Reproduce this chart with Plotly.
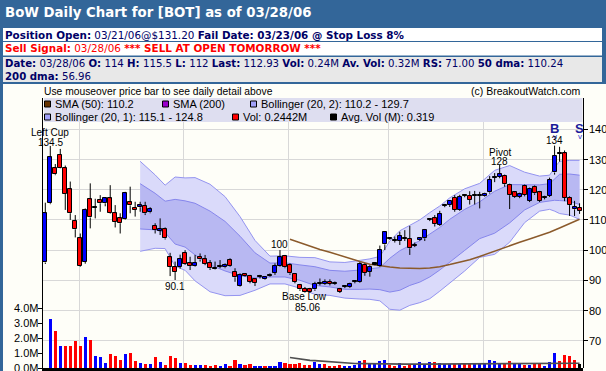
import plotly.graph_objects as go

# ---------------- data ----------------
opens = [95.9, 115.5, 127.1, 131.5, 127.1, 120.1, 109.6, 103.9, 96.2, 116.8,
         114.0, 116.6, 115.5, 117.1, 112.2, 110.5, 110.2, 115.8, 114.0, 114.2,
         114.6, 112.5, 108.0, 106.4, 106.9, 97.6, 94.5, 94.5, 99.0, 95.6,
         94.7, 97.8, 96.9, 95.8, 94.0, 94.4, 94.3, 96.7, 92.9, 88.1,
         92.0, 91.4, 90.3, 91.1, 90.3, 91.7, 92.5, 94.7, 98.0, 95.0,
         92.1, 88.4, 87.2, 87.0, 87.0, 89.0, 88.9, 89.5, 88.9, 87.0,
         87.8, 87.9, 89.4, 89.5, 95.1, 92.9, 95.3, 94.8, 101.9, 103.7,
         103.2, 103.0, 103.7, 103.8, 101.6, 103.3, 103.9, 110.1, 110.5, 108.3,
         114.6, 114.9, 117.4, 113.3, 117.9, 118.0, 117.9, 118.1, 118.0, 119.1,
         124.1, 124.3, 124.6, 121.5, 119.1, 117.7, 121.3, 116.3, 121.0, 119.1,
         117.3, 118.0, 125.7, 131.9, 132.0, 117.4, 113.5, 114.0]
highs = [115.7, 134.5, 128.5, 133.5, 128.0, 122.7, 111.6, 105.5, 113.8, 122.1,
         117.0, 118.2, 117.5, 121.5, 114.9, 112.2, 119.3, 121.0, 116.0, 116.0,
         116.0, 114.2, 108.9, 110.5, 107.5, 99.1, 96.2, 98.5, 100.0, 97.8,
         98.4, 98.9, 98.4, 96.7, 96.2, 96.7, 95.6, 97.3, 94.0, 92.3,
         92.3, 91.8, 90.6, 91.8, 91.4, 92.3, 95.6, 100.0, 98.4, 95.6,
         92.3, 88.8, 87.8, 87.5, 89.5, 90.6, 90.3, 90.3, 89.6, 87.5,
         88.3, 89.2, 90.0, 96.0, 95.6, 95.0, 95.8, 101.5, 106.3, 104.2,
         104.5, 106.1, 106.6, 108.0, 102.5, 104.2, 107.0, 110.5, 111.6, 113.0,
         115.3, 116.6, 118.2, 118.3, 118.4, 119.5, 119.6, 119.3, 119.0, 124.5,
         125.5, 128.2, 125.0, 122.0, 119.5, 119.0, 121.7, 120.7, 121.4, 119.6,
         118.0, 124.0, 134.6, 134.2, 133.0, 117.8, 116.3, 115.5]
lows = [95.4, 115.2, 124.8, 127.0, 113.3, 110.0, 104.2, 94.5, 95.5, 107.2,
        110.5, 112.7, 114.5, 112.0, 107.5, 105.5, 110.0, 112.2, 111.1, 112.7,
        111.6, 112.2, 105.5, 105.0, 103.5, 91.4, 90.1, 93.9, 95.1, 93.4,
        94.5, 96.2, 95.0, 93.4, 93.6, 94.0, 94.0, 94.5, 89.5, 87.9,
        91.2, 89.0, 88.1, 90.6, 90.1, 91.2, 91.8, 94.5, 94.0, 91.8,
        89.0, 86.5, 85.8, 85.8, 86.5, 88.3, 88.5, 88.3, 88.5, 85.8,
        87.4, 87.5, 89.0, 89.2, 91.5, 91.2, 95.0, 94.5, 100.0, 103.4,
        102.5, 101.7, 103.0, 98.4, 101.0, 103.0, 103.0, 109.6, 107.8, 108.0,
        114.2, 114.3, 112.7, 113.0, 117.5, 115.1, 115.1, 113.8, 117.7, 118.7,
        122.5, 123.8, 121.0, 113.6, 117.3, 117.2, 117.8, 115.9, 118.3, 115.9,
        116.8, 117.6, 125.0, 129.3, 116.2, 111.3, 111.3, 112.0]
closes = [112.2, 130.7, 125.1, 127.1, 118.6, 112.2, 106.9, 94.8, 113.3, 110.8,
          114.0, 115.5, 117.1, 112.2, 109.4, 108.9, 118.8, 114.8, 113.3, 114.8,
          112.2, 113.6, 106.6, 107.0, 103.9, 94.5, 92.9, 97.0, 95.4, 94.7,
          95.8, 96.9, 95.4, 94.0, 93.9, 94.5, 95.0, 94.9, 91.0, 91.8,
          91.4, 89.5, 89.2, 91.2, 91.2, 91.8, 94.7, 97.6, 94.3, 92.3,
          89.5, 87.0, 86.0, 86.2, 88.8, 89.2, 89.5, 88.8, 89.0, 86.2,
          87.9, 88.8, 89.5, 95.4, 92.5, 94.5, 95.5, 100.0, 105.9, 103.8,
          103.1, 104.8, 103.8, 100.6, 101.7, 103.9, 106.6, 110.0, 108.6, 112.0,
          114.7, 116.3, 113.3, 117.7, 118.0, 116.6, 118.0, 118.2, 118.6, 123.2,
          124.0, 125.1, 121.8, 118.2, 117.7, 118.6, 118.2, 120.2, 118.8, 116.3,
          117.4, 123.2, 131.3, 132.0, 117.4, 114.9, 114.4, 112.93]

# volume in millions, one bar per session from the 2nd session on
volumes_m = [3.3, 2.47, 1.47, 1.47, 1.47, 1.8, 1.47, 2.07, 1.87, 0.8,
             0.73, 0.33, 0.93, 0.8, 0.53, 0.93, 1.0, 0.47, 0.33, 0.27,
             0.27, 0.73, 0.4, 0.2, 0.8, 0.67, 0.33, 0.33, 0.2, 0.2,
             0.2, 0.2, 0.13, 0.2, 0.13, 0.27, 0.07, 0.53, 0.27, 0.2,
             0.27, 0.13, 0.07, 0.07, 0.13, 0.13, 0.4, 0.33, 0.27, 0.27,
             0.33, 0.2, 0.2, 0.4, 0.27, 0.27, 0.13, 0.07, 0.2, 0.13,
             0.13, 0.2, 0.47, 0.53, 0.27, 0.27, 0.47, 0.53, 0.2, 0.13,
             0.33, 0.13, 0.27, 0.2, 0.4, 0.27, 0.4, 0.4, 0.33, 0.27,
             0.27, 0.27, 0.27, 0.27, 0.27, 0.27, 0.27, 0.27, 0.53, 0.47,
             0.27, 0.27, 0.47, 0.27, 0.27, 0.2, 0.2, 0.27, 0.27, 0.07,
             0.4, 1.0, 0.47, 0.87, 0.8, 0.53, 0.2442]
vol_dir = ("BRBRRRRBRBBBRRRBRRBRBRBRRRBRRBBRRRBBRRBRRBBRBBBRRRRRRBBRRRRBBBB"
           "RBBBBRRBRRBBBBRBBBRBRRBBBBBBRRBBRBRRBBBRRRR")
vol_first_bar = 1

sma50_idx = [49, 51, 53, 55, 57, 59, 61, 63, 65, 67, 69, 71, 73, 75, 77,
             79, 81, 83, 85, 87, 89, 91, 93, 95, 97, 99, 101, 103, 105, 107]
sma50_val = [103.6, 102.5, 101.2, 100.2, 99.3, 98.2, 97.1, 96.2, 95.3, 94.8,
             94.4, 94.1, 93.9, 93.9, 94.1, 94.5, 95.2, 95.9, 96.8, 97.9,
             99.1, 100.4, 101.6, 102.6, 103.7, 104.8, 105.9, 107.3, 108.8, 110.2]

avgvol_idx = [49, 50, 51, 52, 53, 54, 55, 56, 57, 58, 59, 60, 62, 64, 66, 68,
              72, 76, 80, 84, 88, 92, 96, 100, 102, 104, 107]
avgvol_val = [0.70, 0.645, 0.59, 0.54, 0.51, 0.49, 0.465, 0.435, 0.405, 0.37,
              0.335, 0.32, 0.305, 0.29, 0.272, 0.262, 0.26, 0.26, 0.265, 0.27,
              0.28, 0.285, 0.29, 0.29, 0.30, 0.31, 0.319]

boll_idx = [19, 22, 24, 26, 28, 30, 33, 36, 39, 42, 45, 48, 51, 54, 57, 60, 63,
            65, 67, 69, 71, 73, 75, 77, 79, 81, 84, 87, 90, 93, 96, 99, 101,
            102, 103, 105, 107]
boll_u2 = [129.4, 124.9, 121.5, 124.2, 123.9, 124.0, 121.8, 117.7, 111.1, 103.2,
           98.0, 98.1, 97.6, 97.5, 96.1, 95.9, 96.6, 97.1, 97.9, 103.0,
           106.4, 108.1, 110.0, 112.4, 114.6, 117.3, 120.3, 122.1, 126.4, 128.0,
           125.8, 124.5, 124.8, 127.3, 129.4, 129.7, 129.7]
boll_u1 = [122.0, 118.8, 116.2, 116.8, 116.3, 115.5, 112.9, 109.5, 104.6, 99.1,
           95.7, 95.8, 95.1, 94.5, 93.3, 93.0, 93.4, 93.7, 94.2, 97.3,
           99.8, 101.5, 103.1, 105.3, 107.5, 110.2, 113.5, 116.0, 119.5, 121.7,
           121.6, 121.6, 122.0, 123.7, 125.1, 125.2, 124.8]
boll_l1 = [107.0, 106.7, 105.8, 102.0, 101.0, 98.4, 95.1, 93.1, 91.5, 90.8,
           91.1, 91.1, 90.0, 88.3, 87.8, 87.0, 87.0, 87.1, 86.9, 86.1,
           86.7, 88.3, 89.4, 91.1, 93.4, 96.1, 99.9, 103.8, 105.6, 109.0,
           113.3, 115.8, 116.3, 116.5, 116.4, 116.2, 115.1]
boll_l2 = [99.6, 100.6, 100.5, 94.7, 93.3, 89.8, 86.2, 84.9, 85.0, 86.7,
           88.8, 88.8, 87.4, 85.3, 85.0, 84.1, 83.8, 83.7, 83.2, 80.4,
           80.1, 81.7, 82.6, 83.9, 86.4, 89.0, 93.1, 97.6, 98.6, 102.6,
           109.1, 112.9, 113.5, 112.9, 112.1, 111.6, 110.2]

month_start_idx = [7, 28, 49, 69, 88]
price_ticks = [70, 80, 90, 100, 110, 120, 130, 140]
vol_ticks = [0, 1, 2, 3, 4]
vol_tick_text = ["0.0M", "1.0M", "2.0M", "3.0M", "4.0M"]

note_bar = [1, 26, 47, 52, 91]
note_label = ["Left Cup", "", "", "Base Low", "Pivot"]
note_value = ["134.5", "90.1", "100", "85.06", "128"]
note_side = ["high", "low", "high", "low", "high"]

buy_bar, buy_value = 102, "134"
sell_bar = 107

# ---------------- geometry / styles ----------------
W, H = 606, 371
PL, PR, PT, PB = 43, 583, 98, 368
PW, PH = PR - PL, PB - PT
BAR_PX = 4.993
X0_PX = 45.3
xr = [(PL - X0_PX) / BAR_PX, (PR - X0_PX) / BAR_PX]
PX_PER_UNIT = 3.02
P140_Y = 129.3
yr = [140 - (PB - P140_Y) / PX_PER_UNIT, 140 + (P140_Y - PT) / PX_PER_UNIT]
VOL_PX_PER_M = 15.0
vr = [0, PH / VOL_PX_PER_M]

BLUE = "#0000ff"
RED = "#ff0000"
BG = "#fefef8"
GRID = "#d8d8d8"
HDR = "#336699"
NAVY = "#000066"
CHART_FONT = "Liberation Sans"
HDR_FONT = "DejaVu Sans"


def px(x):
    return (x - PL) / PW


def py(y):
    return (PB - y) / PH


fig = go.Figure()

# Bollinger bands (base subplot)
fig.add_trace(go.Scatter(x=boll_idx, y=boll_l2, mode="lines",
                         line=dict(color="#9494f0", width=1), hoverinfo="skip"))
fig.add_trace(go.Scatter(x=boll_idx, y=boll_u2, mode="lines", fill="tonexty",
                         fillcolor="#dadafa", line=dict(color="#9494f0", width=1),
                         hoverinfo="skip"))
fig.add_trace(go.Scatter(x=boll_idx, y=boll_l1, mode="lines",
                         line=dict(color="#8686ec", width=1), hoverinfo="skip"))
fig.add_trace(go.Scatter(x=boll_idx, y=boll_u1, mode="lines", fill="tonexty",
                         fillcolor="#b8b8f2", line=dict(color="#8686ec", width=1),
                         hoverinfo="skip"))
# SMA 50
fig.add_trace(go.Scatter(x=sma50_idx, y=sma50_val, mode="lines",
                         line=dict(color="#8b5a2b", width=1.5), hoverinfo="skip"))

# volume (overlay subplot xy2)
vol_x = [vol_first_bar + j for j in range(len(volumes_m))]
vol_col = [BLUE if d == "B" else RED for d in vol_dir]
fig.add_trace(go.Bar(x=vol_x, y=volumes_m, width=0.62, marker=dict(color=vol_col, line=dict(width=0)),
                     xaxis="x", yaxis="y2", hoverinfo="skip"))
fig.add_trace(go.Scatter(x=avgvol_idx, y=avgvol_val, mode="lines", xaxis="x", yaxis="y2",
                         line=dict(color="#505050", width=1.6), hoverinfo="skip"))

# candles (overlay subplot x3y3)
n = len(closes)
base, height, colors = [], [], []
wx, wy = [], []
for i in range(n):
    o, h, l, c = opens[i], highs[i], lows[i], closes[i]
    lo, hi = min(o, c), max(o, c)
    if hi - lo < 0.25:
        mid = (lo + hi) / 2
        base.append(mid - 0.17)
        height.append(0.34)
        colors.append("black")
        lo, hi = mid, mid
    else:
        base.append(lo)
        height.append(hi - lo)
        colors.append(BLUE if c > o else RED)
    wx += [i, i, None, i, i, None]
    wy += [h, hi, None, lo, l, None]
fig.add_trace(go.Scatter(x=wx, y=wy, mode="lines", line=dict(color="black", width=1),
                         xaxis="x3", yaxis="y3", hoverinfo="skip"))
fig.add_trace(go.Bar(x=list(range(n)), y=height, base=base, width=0.78,
                     marker=dict(color=colors, line=dict(color="black", width=1)),
                     xaxis="x3", yaxis="y3", hoverinfo="skip"))

shapes = []
annotations = []


def rect(x0, y0, x1, y1, fill, line=None, layer="above"):
    shapes.append(dict(type="rect", xref="paper", yref="paper", x0=px(x0), x1=px(x1),
                       y0=py(y1), y1=py(y0), fillcolor=fill, layer=layer,
                       line=dict(width=1 if line else 0, color=line or fill)))


def text(t, x, y, size, color="black", family=CHART_FONT, xanchor="left"):
    annotations.append(dict(text=t, x=px(x), y=py(y), xref="paper", yref="paper",
                            xanchor=xanchor, yanchor="middle", showarrow=False,
                            font=dict(family=family, size=size, color=color)))


# header
rect(0, 0, 606, 84, HDR, layer="below")
rect(3, 28, 602, 41, "#ffffff", layer="below")
rect(3, 42, 602, 55.5, "#ffffff", layer="below")
rect(3, 57, 602, 82, "#e8e8e8", layer="below")
rect(0, 84, 3, 371, HDR, layer="below")
text("<b>BoW Daily Chart for [BOT] as of 03/28/06</b>", 3, 13, 13.3, "white", HDR_FONT)
text("<b>Position Open:</b> 03/21/06@$131.20 <b>Fail Date: 03/23/06 @ Stop Loss 8%</b>",
     3, 34.5, 10.4, NAVY, HDR_FONT)
text("<b>Sell Signal:</b> 03/28/06 <b>*** SELL AT OPEN TOMORROW ***</b>", 3, 48.5, 10.4, RED, HDR_FONT)
text("<b>Date:</b> 03/28/06 <b>O:</b> 114 <b>H:</b> 115.5 <b>L:</b> 112 <b>Last:</b> 112.93 "
     "<b>Vol:</b> 0.24M <b>Av. Vol:</b> 0.32M <b>RS:</b> 71.00 <b>50 dma:</b> 110.24",
     3, 63, 10.2, NAVY, HDR_FONT)
text("<b>200 dma:</b> 56.96", 3, 76, 10.2, NAVY, HDR_FONT)

# chart captions
text("Use mouseover price bar to see daily detail above", 42, 91.5, 10.3)
text("(c) BreakoutWatch.com", 583, 91.5, 10.5, xanchor="right")

# legend box
rect(44, 98, 582.5, 122, "#dedef0")
leg_items = [
    (44.5, 104, "#663300", f"SMA (50): {sma50_val[-1]:.1f}"),
    (162.5, 104, "#9900cc", "SMA (200)"),
    (250.5, 104, "#a0a0f8", f"Bollinger (20, 2): {boll_l2[-1]:.1f} - {boll_u2[-1]:.1f}"),
    (44.5, 117, "#a0a0f8", f"Bollinger (20, 1): {boll_l1[-1]:.1f} - {boll_u1[-1]:.1f}"),
    (232.5, 117, RED, f"Vol: {volumes_m[-1]:.4f}M"),
    (330.5, 117, "#000000", f"Avg. Vol (M): {avgvol_val[-1]:.3f}"),
]
for x0, yc, col, label in leg_items:
    rect(x0, yc - 3, x0 + 6, yc + 3, col, line="black")
    text(label, x0 + 8, yc, 11)

# bottom thick axis
rect(42, 368, 583, 371, "black")

# right-hand price labels and left-hand volume labels
for t in price_ticks:
    annotations.append(dict(text=str(t), x=px(586.5), y=t, xref="paper", yref="y",
                            xanchor="left", yanchor="middle", showarrow=False,
                            font=dict(family=CHART_FONT, size=11, color="black")))
for t, lab in zip(vol_ticks, vol_tick_text):
    annotations.append(dict(text=lab, x=px(39.5), y=t, xref="paper", yref="y2",
                            xanchor="right", yanchor="middle", showarrow=False,
                            font=dict(family=CHART_FONT, size=11, color="black")))

# chart notes (anchored to the bars)
note_shift = {"Left Cup": (3, 13), "Pivot": (3.5, 12.5)}
for b, lab, val, side in zip(note_bar, note_label, note_value, note_side):
    if side == "high":
        yv = highs[b]
        s_val, s_lab = note_shift.get(lab, (6, 16))
        annotations.append(dict(text=val, x=b, y=yv, xref="x", yref="y", yshift=s_val,
                                yanchor="middle", showarrow=False,
                                font=dict(family=CHART_FONT, size=10, color="black")))
        if lab:
            annotations.append(dict(text=lab, x=b, y=yv, xref="x", yref="y", yshift=s_lab,
                                    yanchor="middle", showarrow=False,
                                    font=dict(family=CHART_FONT, size=10, color="black")))
    else:
        yv = lows[b]
        if lab:
            annotations.append(dict(text=lab, x=b, y=yv, xref="x", yref="y", yshift=-4,
                                    yanchor="middle", showarrow=False,
                                    font=dict(family=CHART_FONT, size=10, color="black")))
            annotations.append(dict(text=val, x=b + 0.5, y=yv, xref="x", yref="y", yshift=-15,
                                    yanchor="middle", showarrow=False,
                                    font=dict(family=CHART_FONT, size=10, color="black")))
        else:
            annotations.append(dict(text=val, x=b, y=yv, xref="x", yref="y", yshift=-6,
                                    yanchor="middle", showarrow=False,
                                    font=dict(family=CHART_FONT, size=10, color="black")))

# buy / sell signals
SIG = "#1a1a99"
for b, letter in [(buy_bar, "B"), (sell_bar, "S")]:
    annotations.append(dict(text=f"<b>{letter}</b>", x=b, y=py(128), xref="x", yref="paper",
                            yanchor="middle", showarrow=False,
                            font=dict(family=CHART_FONT, size=13, color=SIG)))
    annotations.append(dict(text="v", x=b, y=py(136.5), xref="x", yref="paper",
                            yanchor="middle", showarrow=False,
                            font=dict(family=CHART_FONT, size=8, color="#3333cc")))
annotations.append(dict(text=buy_value, x=buy_bar, y=highs[buy_bar], xref="x", yref="y",
                        yshift=5, yanchor="middle", showarrow=False,
                        font=dict(family=CHART_FONT, size=10, color="black")))

fig.update_layout(
    width=W, height=H,
    margin=dict(l=PL, r=W - PR, t=PT, b=H - PB, pad=0, autoexpand=False),
    paper_bgcolor=BG, plot_bgcolor="rgba(0,0,0,0)",
    showlegend=False, barmode="overlay", bargap=0,
    xaxis=dict(range=xr, tickvals=[m - 0.25 for m in month_start_idx], showticklabels=False,
               ticks="", showgrid=True, gridcolor=GRID, gridwidth=1, zeroline=False,
               showline=False, fixedrange=True),
    yaxis=dict(range=yr, side="right", tickvals=price_ticks, ticks="outside", ticklen=4,
               tickcolor="black", showline=True, linecolor="black", linewidth=1,
               showticklabels=False, showgrid=True, gridcolor=GRID, zeroline=False,
               fixedrange=True),
    yaxis2=dict(range=vr, overlaying="y", side="left", tickvals=vol_ticks,
                ticks="outside", ticklen=4, tickcolor="black",
                showline=True, linecolor="black", linewidth=1, showgrid=False,
                showticklabels=False, zeroline=False, fixedrange=True),
    xaxis3=dict(range=xr, overlaying="x", visible=False, fixedrange=True),
    yaxis3=dict(range=yr, overlaying="y", visible=False, fixedrange=True),
    shapes=shapes, annotations=annotations,
)

fig.write_html("out.html", config={"displayModeBar": False},
               post_script="document.body.style.margin='0';document.body.style.overflow='hidden';")
